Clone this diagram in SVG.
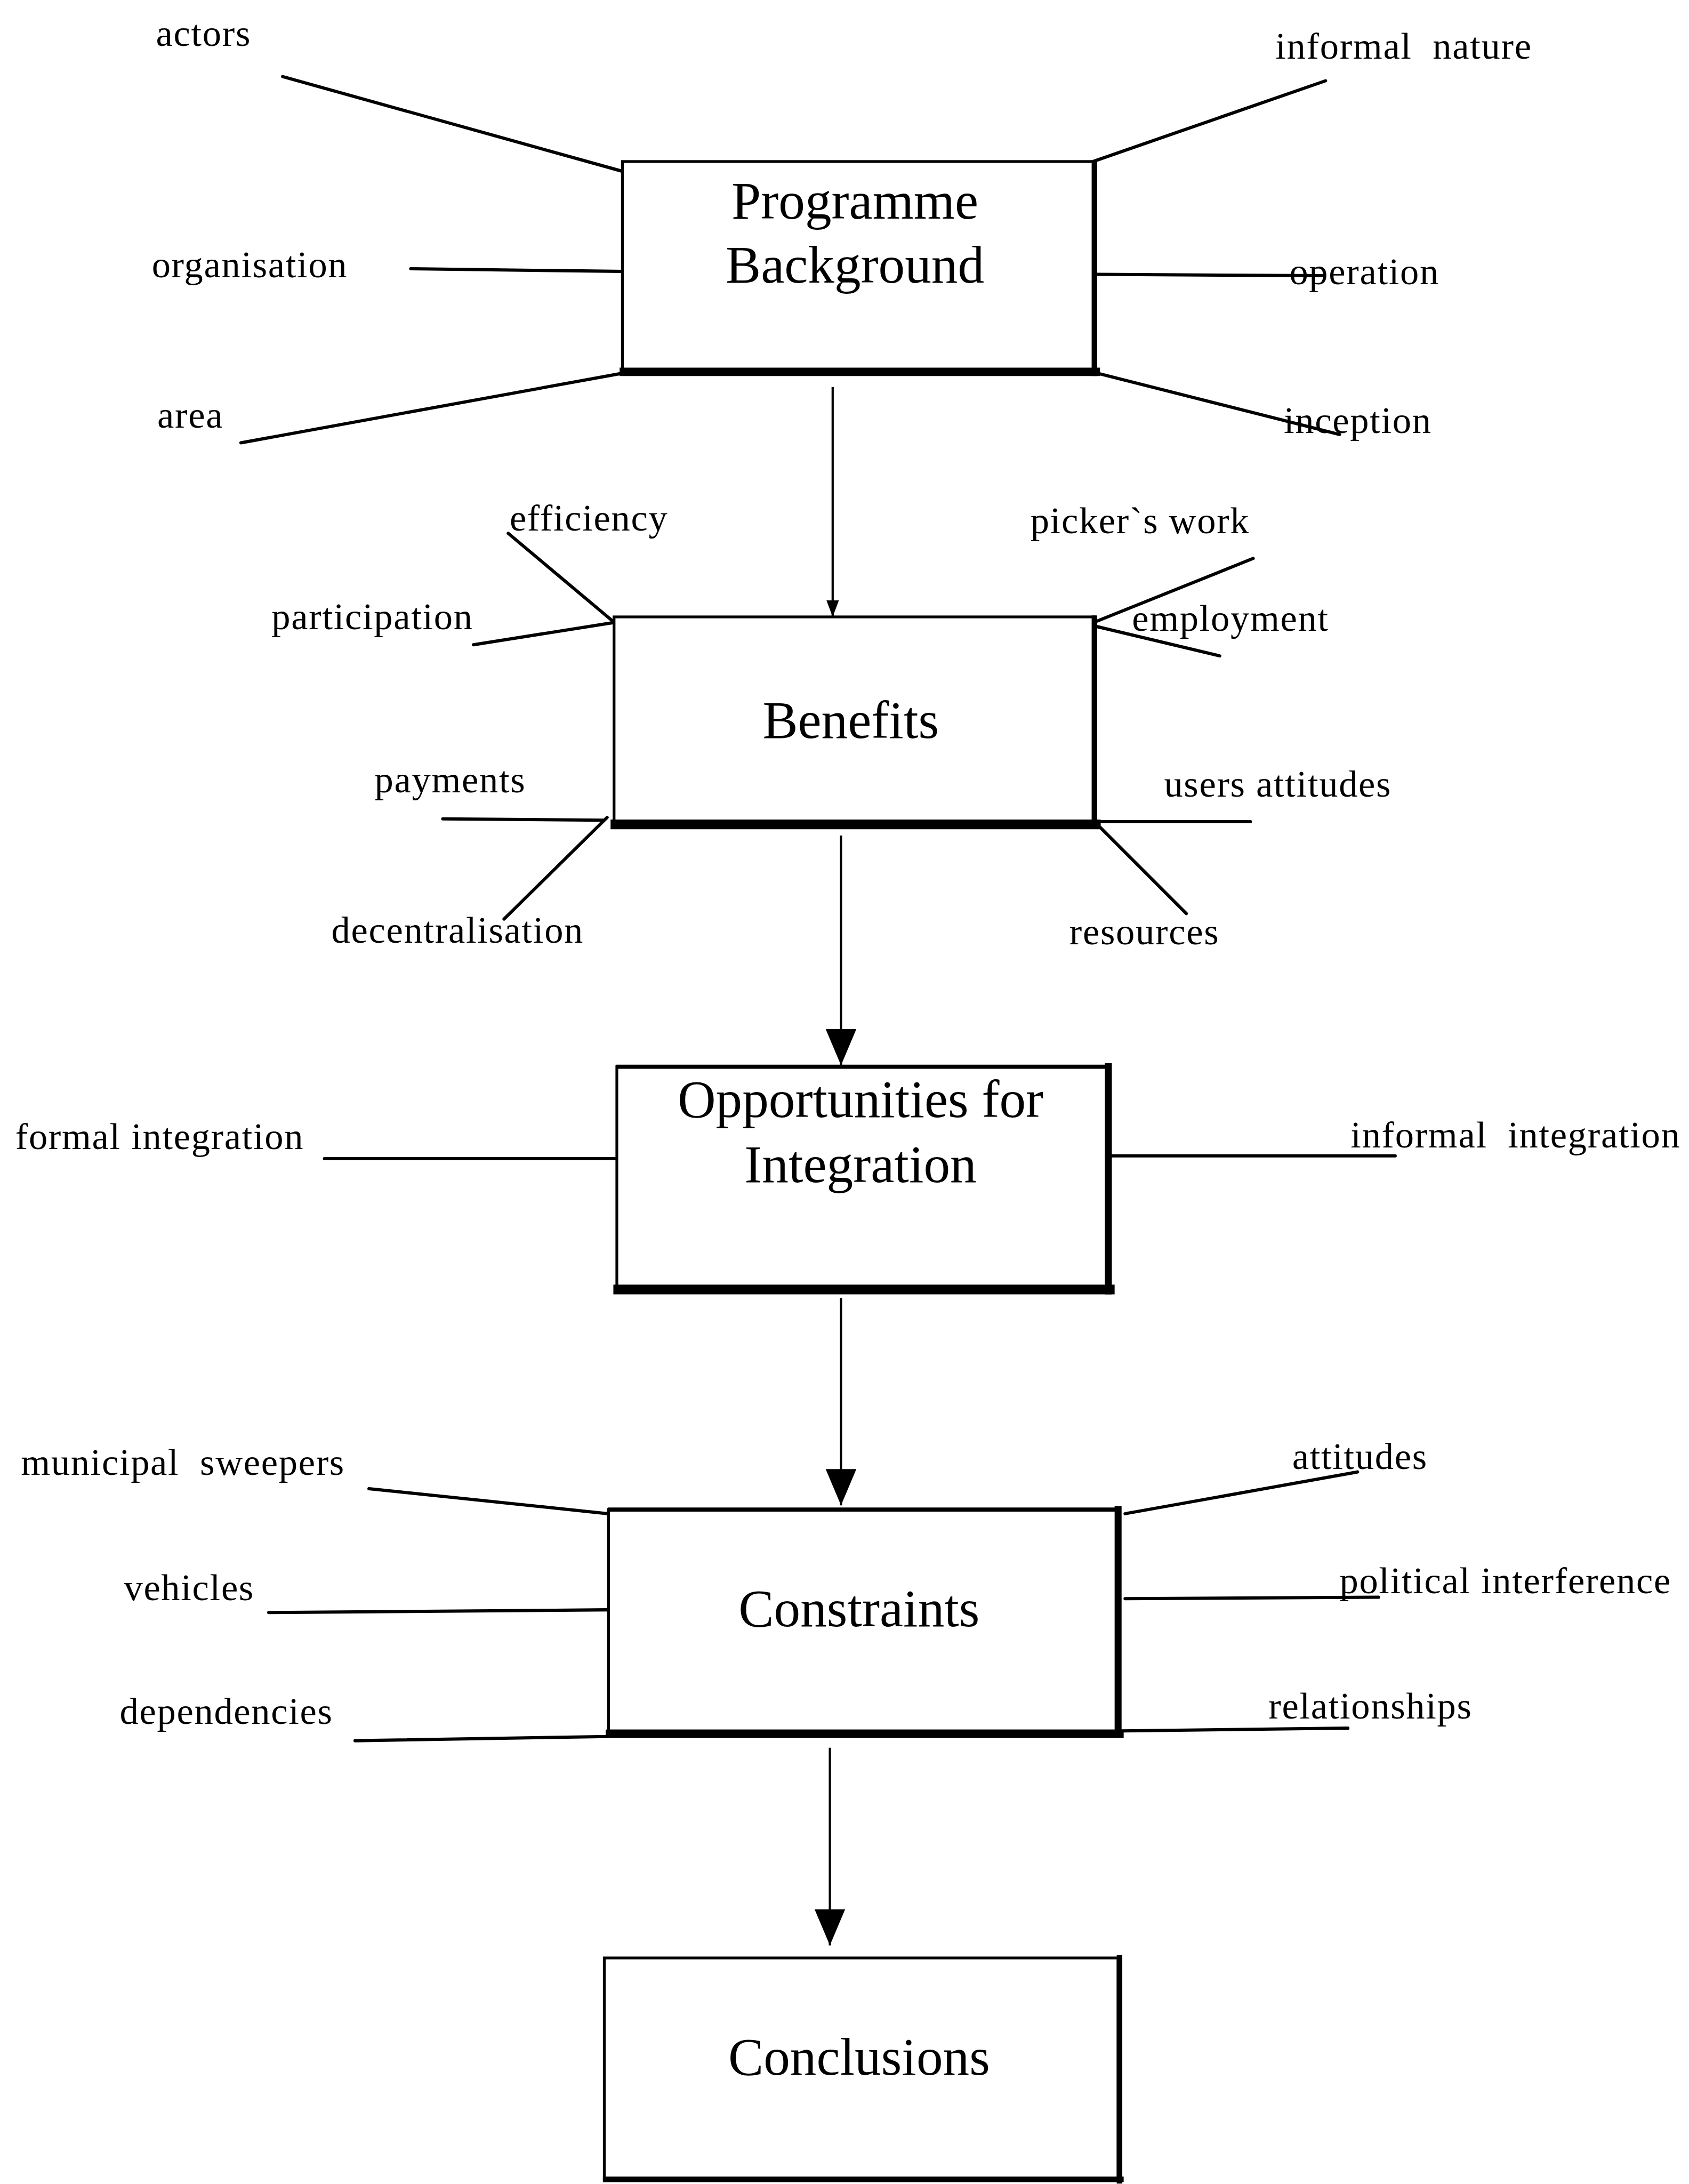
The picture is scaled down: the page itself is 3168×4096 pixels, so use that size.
<svg xmlns="http://www.w3.org/2000/svg" width="3168" height="4096" viewBox="0 0 3168 4096">
<defs>
<style>
.box{fill:#fff;stroke:#000;stroke-width:2}
.sh{stroke:#000;fill:none;stroke-linecap:square}
.sp{stroke:#000;stroke-width:2.3;fill:none;stroke-linecap:round}
.ar{stroke:#000;stroke-width:1.6;fill:none}
.t{font-family:"Liberation Serif","Times New Roman",serif;font-size:38px;fill:#000;text-anchor:middle}
.l{font-family:"Liberation Serif","Times New Roman",serif;font-size:27px;letter-spacing:0.65px;fill:#000}
</style>
<marker id="big" viewBox="0 0 26 22" refX="26" refY="11" markerWidth="26" markerHeight="22" markerUnits="userSpaceOnUse" orient="auto">
<path d="M0,0 L26,11 L0,22 z" fill="#000"/>
</marker>
<marker id="small" viewBox="0 0 12 9" refX="12" refY="4.5" markerWidth="12" markerHeight="9" markerUnits="userSpaceOnUse" orient="auto">
<path d="M0,0 L12,4.5 L0,9 z" fill="#000"/>
</marker>
</defs>
<rect width="3168" height="4096" fill="#fff"/>
<g transform="scale(2.6117)">
<g id="connectors">
<line class="ar" x1="598" y1="278" x2="598" y2="443" marker-end="url(#small)"/>
<line class="ar" x1="604" y1="600" x2="604" y2="765" marker-end="url(#big)"/>
<line class="ar" x1="604" y1="932" x2="604" y2="1081" marker-end="url(#big)"/>
<line class="ar" x1="596" y1="1255" x2="596" y2="1397" marker-end="url(#big)"/>
<line class="sp" x1="203" y1="55" x2="447" y2="123"/>
<line class="sp" x1="952" y1="58" x2="782" y2="117"/>
<line class="sp" x1="295" y1="193" x2="455" y2="195"/>
<line class="sp" x1="788" y1="197" x2="950" y2="198"/>
<line class="sp" x1="173" y1="318" x2="447" y2="268"/>
<line class="sp" x1="788" y1="268" x2="962" y2="312"/>
<line class="sp" x1="365" y1="383" x2="440" y2="446"/>
<line class="sp" x1="340" y1="463" x2="441" y2="447"/>
<line class="sp" x1="900" y1="401" x2="788" y2="446"/>
<line class="sp" x1="788" y1="450" x2="876" y2="471"/>
<line class="sp" x1="318" y1="588" x2="433" y2="589"/>
<line class="sp" x1="362" y1="660" x2="436" y2="587"/>
<line class="sp" x1="788" y1="590" x2="898" y2="590"/>
<line class="sp" x1="790" y1="594" x2="852" y2="656"/>
<line class="sp" x1="233" y1="832" x2="443" y2="832"/>
<line class="sp" x1="798" y1="830" x2="1002" y2="830"/>
<line class="sp" x1="265" y1="1069" x2="437" y2="1087"/>
<line class="sp" x1="193" y1="1158" x2="437" y2="1156"/>
<line class="sp" x1="255" y1="1250" x2="437" y2="1247"/>
<line class="sp" x1="808" y1="1087" x2="975" y2="1057"/>
<line class="sp" x1="808" y1="1148" x2="990" y2="1147"/>
<line class="sp" x1="806" y1="1243" x2="968" y2="1241"/>
</g>
<g id="node-programme-background">
<rect class="box" x="447" y="116" width="339" height="150"/>
<line class="sh" x1="786" y1="117" x2="786" y2="268" stroke-width="4"/>
<line class="sh" x1="448" y1="267" x2="787" y2="267" stroke-width="6"/>
<text class="t" x="614" y="157">Programme</text>
<text class="t" x="614" y="203">Background</text>
</g>
<g id="node-benefits">
<rect class="box" x="441" y="443" width="345" height="147"/>
<line class="sh" x1="786" y1="444" x2="786" y2="593" stroke-width="4"/>
<line class="sh" x1="442" y1="592" x2="787" y2="592" stroke-width="7"/>
<text class="t" x="611" y="530">Benefits</text>
</g>
<g id="node-opportunities">
<rect class="box" x="443" y="766" width="352" height="158"/>
<line class="sh" x1="444" y1="766" x2="795" y2="766" stroke-width="3"/>
<line class="sh" x1="796" y1="766" x2="796" y2="927" stroke-width="5"/>
<line class="sh" x1="444" y1="926" x2="797" y2="926" stroke-width="7"/>
<text class="t" x="618" y="802">Opportunities for</text>
<text class="t" x="618" y="849">Integration</text>
</g>
<g id="node-constraints">
<rect class="box" x="437" y="1084" width="366" height="159"/>
<line class="sh" x1="438" y1="1084" x2="803" y2="1084" stroke-width="3"/>
<line class="sh" x1="803" y1="1084" x2="803" y2="1245" stroke-width="5"/>
<line class="sh" x1="438" y1="1245" x2="804" y2="1245" stroke-width="6"/>
<text class="t" x="617" y="1168">Constraints</text>
</g>
<g id="node-conclusions">
<rect class="box" x="434" y="1406" width="369" height="159"/>
<line class="sh" x1="804" y1="1406" x2="804" y2="1566" stroke-width="4"/>
<line class="sh" x1="435" y1="1565" x2="805" y2="1565" stroke-width="4"/>
<text class="t" x="617" y="1490">Conclusions</text>
</g>
<g id="labels">
<text class="l" x="112" y="33">actors</text>
<text class="l" x="916" y="42" xml:space="preserve">informal  nature</text>
<text class="l" x="109" y="199">organisation</text>
<text class="l" x="926" y="204">operation</text>
<text class="l" x="113" y="307">area</text>
<text class="l" x="922" y="311">inception</text>
<text class="l" x="366" y="381">efficiency</text>
<text class="l" x="195" y="452">participation</text>
<text class="l" x="740" y="383">picker`s work</text>
<text class="l" x="813" y="453">employment</text>
<text class="l" x="269" y="569">payments</text>
<text class="l" x="238" y="677">decentralisation</text>
<text class="l" x="836" y="572">users attitudes</text>
<text class="l" x="768" y="678">resources</text>
<text class="l" x="11" y="825">formal integration</text>
<text class="l" x="970" y="824" xml:space="preserve">informal  integration</text>
<text class="l" x="15" y="1059" xml:space="preserve">municipal  sweepers</text>
<text class="l" x="89" y="1149">vehicles</text>
<text class="l" x="86" y="1238">dependencies</text>
<text class="l" x="928" y="1055">attitudes</text>
<text class="l" x="962" y="1144">political interference</text>
<text class="l" x="911" y="1234">relationships</text>
</g>
</g>
</svg>
